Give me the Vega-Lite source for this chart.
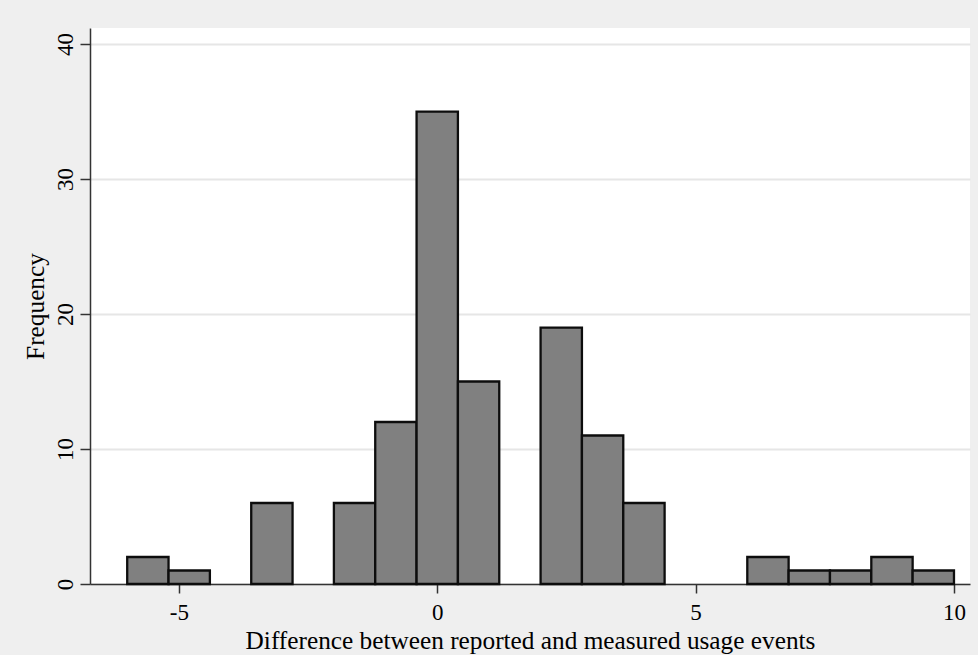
{
  "$schema": "https://vega.github.io/schema/vega-lite/v6.json",
  "width": 880,
  "height": 556,
  "autosize": {"type": "none"},
  "padding": {"left": 90, "top": 28, "right": 8, "bottom": 71},
  "background": "#efefef",
  "config": {
    "view": {"fill": "white", "stroke": null},
    "font": "Liberation Serif"
  },
  "data": {
    "values": [
      {"bin_start": -6.0, "bin_end": -5.2, "count": 2},
      {"bin_start": -5.2, "bin_end": -4.4, "count": 1},
      {"bin_start": -3.6, "bin_end": -2.8, "count": 6},
      {"bin_start": -2.0, "bin_end": -1.2, "count": 6},
      {"bin_start": -1.2, "bin_end": -0.4, "count": 12},
      {"bin_start": -0.4, "bin_end": 0.4, "count": 35},
      {"bin_start": 0.4, "bin_end": 1.2, "count": 15},
      {"bin_start": 2.0, "bin_end": 2.8, "count": 19},
      {"bin_start": 2.8, "bin_end": 3.6, "count": 11},
      {"bin_start": 3.6, "bin_end": 4.4, "count": 6},
      {"bin_start": 6.0, "bin_end": 6.8, "count": 2},
      {"bin_start": 6.8, "bin_end": 7.6, "count": 1},
      {"bin_start": 7.6, "bin_end": 8.4, "count": 1},
      {"bin_start": 8.4, "bin_end": 9.2, "count": 2},
      {"bin_start": 9.2, "bin_end": 10.0, "count": 1}
    ]
  },
  "mark": {"type": "rect", "fill": "#808080", "stroke": "#0d0d0d", "strokeWidth": 2.3},
  "encoding": {
    "x": {
      "field": "bin_start",
      "type": "quantitative",
      "scale": {"domain": [-6.72, 10.31], "nice": false, "zero": false},
      "axis": {
        "values": [-5, 0, 5, 10],
        "labelExpr": "toString(datum.value)",
        "title": "Difference between reported and measured usage events",
        "titleFont": "Liberation Serif",
        "titleFontSize": 25.3,
        "titleFontWeight": "normal",
        "titleColor": "#000000",
        "titlePadding": 4,
        "labelFont": "Liberation Serif",
        "labelFontSize": 23,
        "labelColor": "#000000",
        "labelPadding": 8,
        "tickSize": 9,
        "tickColor": "#333333",
        "tickWidth": 1.5,
        "domainColor": "#333333",
        "domainWidth": 1.5,
        "grid": false
      }
    },
    "x2": {"field": "bin_end"},
    "y": {
      "field": "count",
      "type": "quantitative",
      "scale": {"domain": [0, 41.19], "nice": false},
      "axis": {
        "values": [0, 10, 20, 30, 40],
        "labelExpr": "toString(datum.value)",
        "title": "Frequency",
        "titleFont": "Liberation Serif",
        "titleFontSize": 25.3,
        "titleFontWeight": "normal",
        "titleColor": "#000000",
        "titlePadding": 6,
        "labelFont": "Liberation Serif",
        "labelFontSize": 23,
        "labelColor": "#000000",
        "labelAngle": -90,
        "labelAlign": "center",
        "labelBaseline": "alphabetic",
        "labelPadding": 8,
        "tickSize": 10,
        "tickColor": "#333333",
        "tickWidth": 1.5,
        "domainColor": "#333333",
        "domainWidth": 1.5,
        "grid": true,
        "gridColor": "#e6e6e6",
        "gridWidth": 2
      }
    },
    "y2": {"datum": 0}
  }
}
